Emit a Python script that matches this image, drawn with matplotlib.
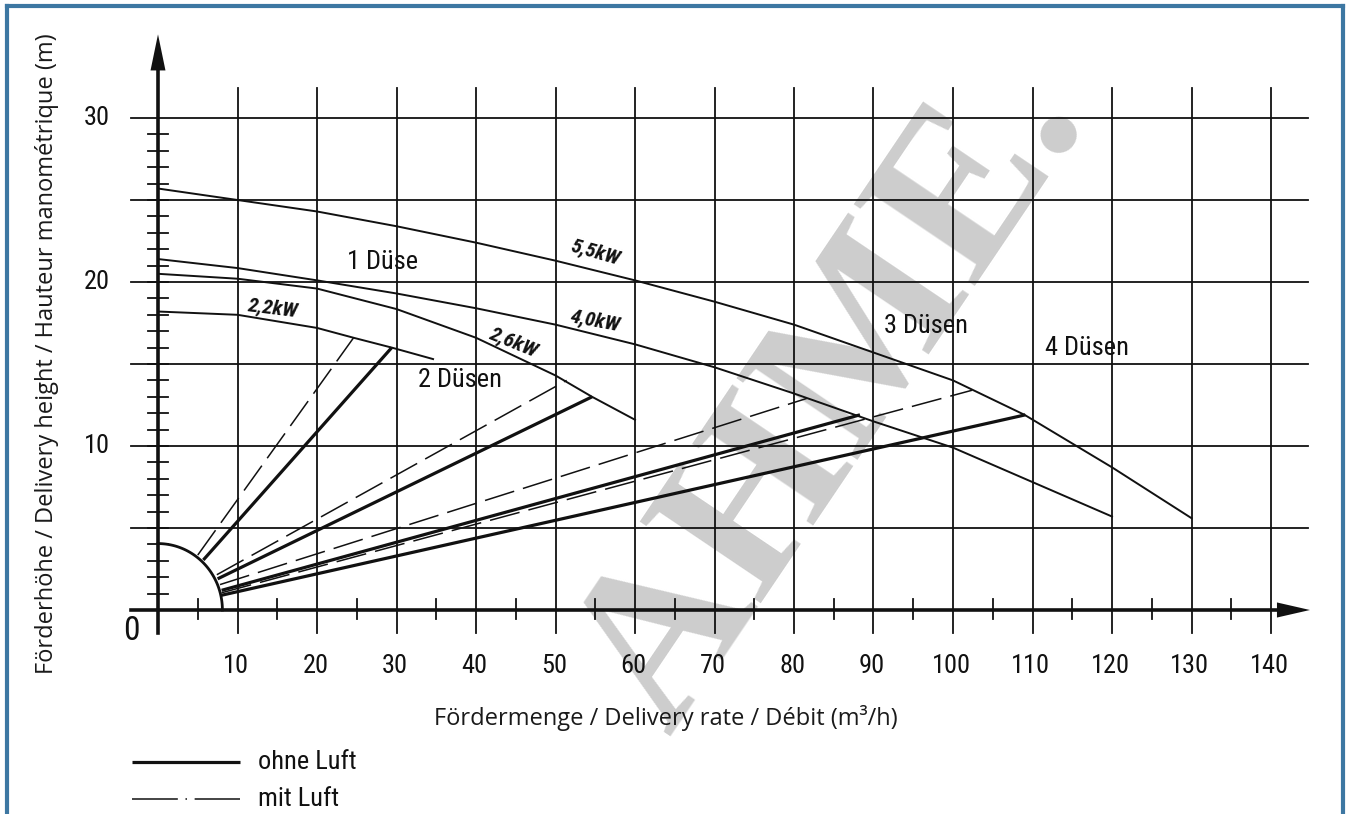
import numpy as np
import matplotlib
matplotlib.use("Agg")
from matplotlib import pyplot as plt
from matplotlib import font_manager
from matplotlib.lines import Line2D

# pump curves: Fördermenge (m3/h) vs Förderhöhe (m)
q_55 = [0, 10, 20, 30, 40, 50, 60, 70, 80, 90, 100, 109, 120, 130]
h_55 = [25.7, 25.0, 24.3, 23.4, 22.4, 21.3, 20.1, 18.8, 17.4, 15.7, 14.0, 11.9, 8.7, 5.6]
q_40 = [0, 10, 20, 30, 40, 50, 60, 70, 80, 90, 100, 110, 120]
h_40 = [21.4, 20.85, 20.1, 19.3, 18.4, 17.4, 16.2, 14.8, 13.2, 11.5, 9.9, 7.8, 5.7]
q_26 = [0, 10, 20, 30, 40, 50, 54.6, 60]
h_26 = [20.5, 20.2, 19.6, 18.35, 16.6, 14.3, 13.0, 11.6]
q_22 = [0, 10, 20, 24.6, 29.4, 34.6]
h_22 = [18.2, 18.0, 17.2, 16.6, 16.0, 15.3]

# nozzle lines (start on the arc, end on a pump curve)
ohne_luft = [((5.7, 3.05), (29.4, 16.0)),
             ((7.5, 1.9), (54.6, 13.0)),
             ((8.0, 1.2), (88.3, 11.9)),
             ((8.0, 0.9), (109.1, 11.9))]
mit_luft = [((5.0, 3.35), (24.6, 16.6)),
            ((7.4, 2.15), (51.4, 14.0)),
            ((7.8, 1.55), (81.6, 12.9)),
            ((8.0, 1.05), (102.4, 13.4))]

x_ticks = list(range(10, 150, 10))
y_ticks = [10, 20, 30]
y_grid = [5, 10, 15, 20, 25, 30]

# pixel -> data mapping: x_px = 158 + 7.95*q, y_px = 610 - 16.4*h
X0, X1 = -158 / 7.95, (1347 - 158) / 7.95
Y0, Y1 = (610 - 814) / 16.4, 610 / 16.4


def pick(families):
    for fam in families:
        try:
            font_manager.findfont(fam, fallback_to_default=False)
            return fam
        except ValueError:
            pass
    return "DejaVu Sans"


num_font = pick(["Liberation Sans Narrow", "Roboto Condensed", "Roboto"])
lab_font = pick(["Open Sans", "Noto Sans", "DejaVu Sans"])
narrow = num_font != "Roboto"
fs_num = 19 if narrow else 17.5
fs_kw = 15 if narrow else 14

fig = plt.figure(figsize=(13.47, 8.14), dpi=100)
ax = fig.add_axes([0, 0, 1, 1])
ax.set_xlim(X0, X1)
ax.set_ylim(Y0, Y1)
ax.axis("off")

# watermark
ax.text(85, 13.0, "AHME.", fontsize=160, family=["Liberation Serif", "DejaVu Serif"],
        fontweight="bold", color="#cdcdcd", rotation=56, ha="center", va="center",
        rotation_mode="anchor", zorder=0)

k = "#111111"
# grid
for y in y_grid:
    ax.plot([-3.4, 144.7], [y, y], color=k, lw=1.3, zorder=2)
for x in x_ticks:
    ax.plot([x, x], [-1.4, 31.8], color=k, lw=1.3, zorder=2)
# minor ticks
for x in range(5, 140, 10):
    ax.plot([x, x], [-0.55, 0.7], color=k, lw=1.3, zorder=2)
for y in range(1, 30):
    ax.plot([-1.26, 1.26], [y, y], color=k, lw=1.3, zorder=2)

# axes with arrows
ax.plot([-3.4, 141], [0, 0], color=k, lw=2.6, zorder=3)
ax.plot([0, 0], [-1.4, 33.2], color=k, lw=2.6, zorder=3)
ax.fill([140.75, 144.9, 140.75], [0.46, 0, -0.46], color=k, zorder=3, lw=0)
ax.fill([-0.94, 0, 0.94], [32.9, 35.1, 32.9], color=k, zorder=3, lw=0)

# arc around origin
t = np.linspace(0, np.pi / 2, 60)
ax.plot(8.1 * np.cos(t), 4.05 * np.sin(t), color=k, lw=2.0, zorder=3)

# pump curves
for q, h in [(q_55, h_55), (q_40, h_40), (q_26, h_26), (q_22, h_22)]:
    ax.plot(q, h, color=k, lw=1.4, zorder=3)

for (x0, y0), (x1, y1) in ohne_luft:
    ax.plot([x0, x1], [y0, y1], color=k, lw=2.3, zorder=4, solid_capstyle="butt")
for (x0, y0), (x1, y1) in mit_luft:
    ax.plot([x0, x1], [y0, y1], color=k, lw=1.1, zorder=4, dashes=(20, 6))

# tick labels
for x in x_ticks:
    ax.text(x - 0.2, -3.41, str(x), fontsize=fs_num, family=num_font,
            ha="center", va="center", color=k)
for y in y_ticks:
    ax.text(-7.7, y, str(y), fontsize=fs_num, family=num_font,
            ha="center", va="center", color=k)
ax.text(-3.4, -1.25, "0", fontsize=24, family=num_font, ha="center", va="center", color=k)

# curve labels
for txt, x, y in [("1 Düse", 23.8, 21.2), ("2 Düsen", 32.7, 14.0),
                  ("3 Düsen", 91.3, 17.3), ("4 Düsen", 111.6, 16.0)]:
    ax.text(x, y, txt, fontsize=fs_num, family=num_font, ha="left", va="center", color=k)
for txt, x, y, r in [("2,2kW", 14.4, 18.4, -7), ("2,6kW", 44.7, 16.3, -22),
                     ("4,0kW", 55.0, 17.6, -10.6), ("5,5kW", 55.0, 21.8, -16)]:
    ax.text(x, y, txt, fontsize=fs_kw, family=num_font, fontweight="bold", style="italic",
            ha="center", va="center", rotation=r, rotation_mode="anchor", color=k)

# axis titles
ax.text(63.9, -6.59, "Fördermenge / Delivery rate / Débit (m³/h)", fontsize=17,
        family=lab_font, ha="center", va="center", color="#1a1a1a")
ax.text(-13.96, 15.6, "Förderhöhe / Delivery height / Hauteur manométrique (m)",
        fontsize=17, family=lab_font, ha="center", va="center", rotation=90,
        color="#1a1a1a")

# legend
ax.plot([-3.27, 10.3], [-9.27, -9.27], color=k, lw=2.3, solid_capstyle="butt")
ax.plot([-3.27, 10.3], [-11.52, -11.52], color=k, lw=1.1, dashes=(30, 5, 1, 5))
ax.text(12.6, -9.27, "ohne Luft", fontsize=fs_num, family=num_font, ha="left", va="center", color=k)
ax.text(12.6, -11.52, "mit Luft", fontsize=fs_num, family=num_font, ha="left", va="center", color=k)

# blue frame
frame = "#3d77a2"
W, H = 1347, 814
fig.add_artist(Line2D([7 / W, 7 / W], [0, 1 - 6 / H], color=frame, lw=3))
fig.add_artist(Line2D([7 / W, 1343 / W], [1 - 6 / H, 1 - 6 / H], color=frame, lw=3))
fig.add_artist(Line2D([1343 / W, 1343 / W], [0, 1 - 6 / H], color=frame, lw=3))

fig.savefig("out.png", dpi=100)
